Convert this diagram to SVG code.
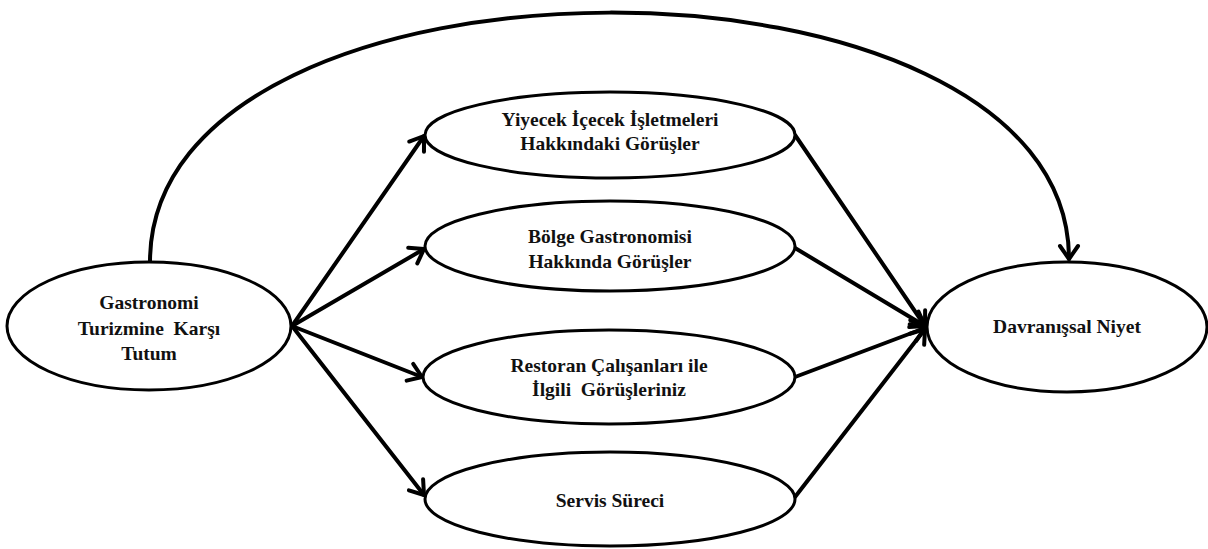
<svg xmlns="http://www.w3.org/2000/svg" width="1208" height="549" viewBox="0 0 1208 549">
<style>
.node ellipse{fill:#fff;stroke:#000;stroke-width:3}
.node text{font-family:"Liberation Serif","Times New Roman",serif;font-weight:bold;font-size:19.5px;text-anchor:middle;fill:#111;white-space:pre}
.conn path{fill:none;stroke:#000;stroke-width:4;stroke-linecap:round}
</style>
<defs>
<marker id="arr" viewBox="-20 -12 24 24" refX="0" refY="0" markerWidth="24" markerHeight="24" markerUnits="userSpaceOnUse" orient="auto" overflow="visible">
<path d="M-13,-9 L0,0 L-13,9" fill="none" stroke="#000" stroke-width="4" stroke-linecap="round" stroke-linejoin="round"/>
</marker>
</defs>
<g class="conn">
<path d="M150,262 C150,-70 1069,-70 1069,259" marker-end="url(#arr)"/>
<path d="M292,326 L424,136" marker-end="url(#arr)"/>
<path d="M292,326 L424,249" marker-end="url(#arr)"/>
<path d="M292,326 L422,377" marker-end="url(#arr)"/>
<path d="M292,326 L424,495" marker-end="url(#arr)"/>
<path d="M795,135 L925,326" marker-end="url(#arr)"/>
<path d="M795,248 L925,326" marker-end="url(#arr)"/>
<path d="M795,377 L925,328" marker-end="url(#arr)"/>
<path d="M795,497 L925,329" marker-end="url(#arr)"/>
</g>
<g class="node" id="n-gastro">
<ellipse cx="149" cy="326" rx="142" ry="64"/>
<text x="149" y="309">Gastronomi</text>
<text x="149" y="335" xml:space="preserve">Turizmine  Karşı</text>
<text x="149" y="360">Tutum</text>
</g>
<g class="node" id="n-yiyecek">
<ellipse cx="610" cy="135" rx="185" ry="43"/>
<text x="610" y="126">Yiyecek İçecek İşletmeleri</text>
<text x="610" y="150">Hakkındaki Görüşler</text>
</g>
<g class="node" id="n-bolge">
<ellipse cx="610" cy="246" rx="185" ry="45"/>
<text x="610" y="243">Bölge Gastronomisi</text>
<text x="610" y="268">Hakkında Görüşler</text>
</g>
<g class="node" id="n-restoran">
<ellipse cx="609" cy="377" rx="186" ry="47"/>
<text x="609" y="372">Restoran Çalışanları ile</text>
<text x="609" y="396" xml:space="preserve">İlgili  Görüşleriniz</text>
</g>
<g class="node" id="n-servis">
<ellipse cx="610" cy="499" rx="185" ry="47"/>
<text x="610" y="507">Servis Süreci</text>
</g>
<g class="node" id="n-davranis">
<ellipse cx="1067" cy="327" rx="140" ry="65"/>
<text x="1067" y="333">Davranışsal Niyet</text>
</g>
</svg>
